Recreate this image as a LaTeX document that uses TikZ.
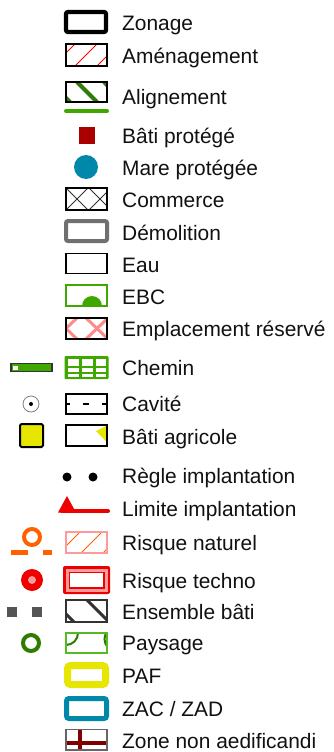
\documentclass[tikz,border=0pt]{standalone}
\usepackage{fontspec}
\setmainfont{Liberation Sans}
\definecolor{agreen}{HTML}{2E7D0A}
\definecolor{lgreen}{HTML}{3FA800}
\definecolor{bred}{HTML}{AA0000}
\definecolor{mare}{HTML}{0088AA}
\definecolor{demgray}{HTML}{707070}
\definecolor{pinkx}{HTML}{FF8A8A}
\definecolor{yel}{HTML}{E6E600}
\definecolor{orng}{HTML}{FF6000}
\definecolor{rred}{HTML}{EE0000}
\definecolor{rpink}{HTML}{FF9A9A}
\definecolor{pgreen}{HTML}{2E7D00}
\definecolor{pbox}{HTML}{55BB22}
\definecolor{dred}{HTML}{800000}
\definecolor{dgray}{HTML}{555555}
\definecolor{txt}{HTML}{111111}
\begin{document}
\begin{tikzpicture}[x=1pt,y=-1pt,
  lbl/.style={anchor=base west, inner sep=0pt, text=txt, font=\fontsize{20.9}{24}\selectfont},
  thinbox/.style={draw=black, line width=1.1},
  hatch/.style={line width=0.9}]
\useasboundingbox[fill=white] (0,0) rectangle (333,752);

% 1 Zonage
\draw[line width=4.2, rounded corners=2] (66,12) rectangle (106,32);
\node[lbl] (tZonage) at (122,30.2) {Zonage};

% 2 Amenagement
\begin{scope}\clip (66,44) rectangle (107,66);
\foreach \x in {53,75,97} \draw[red, hatch] (\x,66) -- (\x+22,44);
\end{scope}
\draw[thinbox] (66,44) rectangle (107,66);
\node[lbl] (tAmen) at (122,63.2) {Aménagement};

% 3 Alignement
\begin{scope}\clip (66,82) rectangle (107,102);
\foreach \x in {50,77,104} \draw[agreen, line width=4] (\x,82) -- (\x+20,102);
\end{scope}
\draw[thinbox] (66,82) rectangle (107,102);
\draw[lgreen, line width=4, line cap=round] (66,111) -- (107,111);
\node[lbl] (tAlign) at (122,104.2) {Alignement};

% 4 Bati protege
\fill[bred] (79,127) rectangle (95,144);
\node[lbl] (tBati) at (122,143.2) {Bâti protégé};

% 5 Mare
\fill[mare] (86,167) circle (12);
\node[lbl] (tMare) at (122,175.2) {Mare protégée};

% 6 Commerce
\begin{scope}\clip (66,188) rectangle (107,210);
\foreach \x in {54,77,100,123} {
  \draw[black!80, line width=0.8] (\x-11,188) -- (\x+11,210);
  \draw[black!80, line width=0.8] (\x+11,188) -- (\x-11,210);}
\end{scope}
\draw[thinbox] (66,188) rectangle (107,210);
\node[lbl] (tComm) at (122,207.2) {Commerce};

% 7 Demolition
\draw[demgray, line width=4, rounded corners=2] (66,221) rectangle (107,241);
\node[lbl] (tDemo) at (122,240.2) {Démolition};

% 8 Eau
\draw[thinbox] (66,253.5) rectangle (107,273.5);
\node[lbl] (tEau) at (122,272.2) {Eau};

% 9 EBC
\begin{scope}\clip (66,285) rectangle (107,306);
\fill[lgreen] (92,306) circle (10);
\end{scope}
\draw[lgreen, line width=2] (66,285) rectangle (107,306);
\node[lbl] (tEBC) at (122,304.2) {EBC};

% 10 Emplacement reserve
\begin{scope}\clip (66,318) rectangle (107,339);
\foreach \x in {66,97} {
  \draw[pinkx, line width=3] (\x-11,318) -- (\x+11,339);
  \draw[pinkx, line width=3] (\x+11,318) -- (\x-11,339);}
\end{scope}
\draw[line width=2] (66,318) rectangle (107,339);
\node[lbl] (tEmpl) at (122,336.2) {Emplacement réservé};

% 11 Chemin
\fill[lgreen, rounded corners=1] (64.5,356) rectangle (108.5,379);
\foreach \a/\b in {68/79,82/93,96/105.5} {
  \fill[white] (\a,358.5) rectangle (\b,366);
  \fill[white] (\a,368) rectangle (\b,372);
  \fill[white] (\a,374) rectangle (\b,377);}
\draw[fill=lgreen, draw=black!80, line width=1.1] (11,363.5) rectangle (52,371.5);
\fill[white] (12.5,365.5) rectangle (18,370);
\node[lbl] (tChemin) at (122,375.2) {Chemin};

% 12 Cavite
\draw[gray, line width=0.8] (31,404) circle (8);
\fill (31,404) circle (2);
\draw[line width=2.5] (66,394) rectangle (107,414);
\draw[line width=1.3] (66,404) -- (70,404) (83,404) -- (89,404) (102,404) -- (107,404);
\node[lbl] (tCav) at (122,411.2) {Cavité};

% 13 Bati agricole
\draw[fill=yel, line width=2, rounded corners=1.5] (20,424) rectangle (43,447);
\fill[yel] (96,431) -- (107,425.5) -- (107,442) -- cycle;
\draw[thinbox] (66,425) rectangle (107,446);
\node[lbl] (tAgri) at (122,444.2) {Bâti agricole};

% 14 Regle implantation
\fill (67,477) circle (4.5);
\fill (93,477) circle (4.5);
\node[lbl] (tRegle) at (122,483.2) {Règle implantation};

% 15 Limite implantation
\fill[rred] (58,512.5) -- (67,496) -- (76,512.5) -- cycle;
\draw[rred, line width=4, line cap=round] (62,511) -- (108,511);
\node[lbl] (tLimite) at (122,516.2) {Limite implantation};

% 16 Risque naturel
\draw[orng, line width=4] (32,537) circle (8);
\fill[orng] (11,550) rectangle (28,555);
\fill[orng] (43,550) rectangle (52,555);
\begin{scope}\clip (66,532) rectangle (107,553);
\foreach \x in {59,81,103} \draw[orng, hatch] (\x,553) -- (\x+21,532);
\end{scope}
\draw[rpink, line width=1.1] (66,532) rectangle (107,553);
\node[lbl] (tRnat) at (122,550.2) {Risque naturel};

% 17 Risque techno
\fill[rred] (32,580) circle (11);
\fill[rpink] (32,580) circle (4);
\fill[rred, rounded corners=2] (63,566) rectangle (110,594);
\fill[rpink] (65.5,568.5) rectangle (107.5,591.5);
\fill[rred] (68.5,571.5) rectangle (104.5,588.5);
\fill[white] (70.2,573.2) rectangle (102.8,586.8);
\node[lbl] (tRtech) at (122,588.2) {Risque techno};

% 18 Ensemble bati
\fill[dgray] (7,607) rectangle (17,617);
\fill[dgray] (32,607) rectangle (42,617);
\begin{scope}\clip (66,600) rectangle (107,622);
\foreach \x in {52,87} \draw[black!80, line width=3] (\x,600) -- (\x+22,622);
\end{scope}
\draw[draw=black!80, line width=1.1] (66,600) rectangle (107,622);
\node[lbl] (tEns) at (122,619.2) {Ensemble bâti};

% 19 Paysage
\draw[pgreen, line width=4] (31,643) circle (8);
\begin{scope}\clip (66,633) rectangle (107,653);
\draw[pgreen, line width=2] (66,633) circle (12);
\draw[pgreen, line width=2] (117,639) circle (12.5);
\end{scope}
\draw[pbox, line width=2] (66,633) rectangle (107,653);
\node[lbl] (tPays) at (122,650.2) {Paysage};

% 20 PAF
\draw[yel, line width=7, rounded corners=3] (67.5,665.5) rectangle (105.5,684.5);
\node[lbl] (tPAF) at (122,683.2) {PAF};

% 21 ZAC / ZAD
\draw[mare, line width=5, rounded corners=2.5] (66.5,698.5) rectangle (106.5,718.5);
\node[lbl] (tZAC) at (122,716.2) {ZAC / ZAD};

% 22 Zone non aedificandi
\begin{scope}\clip (66,729.5) rectangle (107,750);
\draw[dred, line width=3.5] (80,729.5) -- (80,750);
\draw[dred, line width=3.5] (66,743) -- (107,743);
\end{scope}
\draw[draw=black!60, line width=1.1] (66,729.5) rectangle (107,750);
\node[lbl] (tZone) at (122,748.2) {Zone non aedificandi};
\end{tikzpicture}
\end{document}
